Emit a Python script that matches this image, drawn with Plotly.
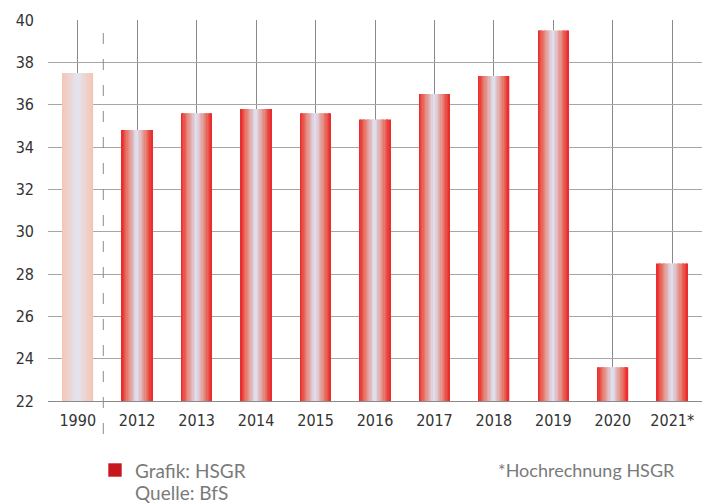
import plotly.graph_objects as go

categories = ["1990", "2012", "2013", "2014", "2015", "2016", "2017", "2018", "2019", "2020", "2021*"]
values = [37.5, 34.8, 35.6, 35.8, 35.6, 35.3, 36.5, 37.35, 39.5, 23.6, 28.5]
y_ticks = [22, 24, 26, 28, 30, 32, 34, 36, 38, 40]

W, H = 708, 503
L, R, T, B = 48, 6, 20, 102
pw, ph = W - L - R, H - T - B


def lerp(c1, c2, t):
    return "rgb(%d,%d,%d)" % tuple(round(a + (b - a) * t) for a, b in zip(c1, c2))


red_edge = (236, 36, 38)
red_mid = (230, 122, 108)
center = (222, 222, 236)
peach_edge = (246, 196, 180)
peach_center = (228, 228, 238)


def grad(edge, mid, cen, t):
    if mid is None:
        return lerp(edge, cen, t)
    if t < 0.4:
        return lerp(edge, mid, t / 0.4)
    return lerp(mid, cen, (t - 0.4) / 0.6)


fig = go.Figure()
N = 24
bw = 0.515
sw = bw / N
for i in range(N):
    pos = (i + 0.5) / N
    t = 1 - abs(pos - 0.5) * 2
    t = min(1, t * 1.05)
    cols = []
    for c in categories:
        if c == "1990":
            cols.append(grad(peach_edge, None, peach_center, t))
        else:
            cols.append(grad(red_edge, red_mid, center, t))
    fig.add_trace(go.Bar(
        x=categories, y=values, width=sw * 1.06, offset=-bw / 2 + i * sw,
        marker=dict(color=cols, line=dict(width=0)), showlegend=False,
        hoverinfo="skip",
    ))

tick_family = "DejaVu Sans Condensed, DejaVu Sans, sans-serif"
fig.update_layout(
    width=W, height=H, margin=dict(l=L, r=R, t=T, b=B, autoexpand=False),
    paper_bgcolor="white", plot_bgcolor="white", barmode="overlay",
    font=dict(family=tick_family, size=16, color="#333333"),
    xaxis=dict(type="category", categoryorder="array", categoryarray=categories,
               range=[-0.5, 10.5], showgrid=True, gridcolor="#8a8a8a", gridwidth=1,
               showline=True, linecolor="#8a8a8a", linewidth=1, ticks="",
               tickfont=dict(family=tick_family, size=16), ticklabelstandoff=5,
               automargin=False, layer="below traces"),
    yaxis=dict(range=[22, 40], tickvals=y_ticks, showgrid=True, gridcolor="#a6a6a6",
               gridwidth=1, zeroline=False, ticks="", tickfont=dict(family=tick_family, size=16),
               ticklabelstandoff=13, automargin=False, layer="below traces"),
)

fig.add_shape(type="line", xref="x", yref="paper", x0=0.43, x1=0.43,
              y0=-33 / ph, y1=1, line=dict(color="#8a8a8a", width=1, dash="11px,15px"),
              layer="above")


def px_x(px):
    return (px - L) / pw


def px_y(py):
    return (H - B - py) / ph


fig.add_shape(type="rect", xref="paper", yref="paper",
              x0=px_x(108.3), x1=px_x(121.7), y0=px_y(476.7), y1=px_y(463.3),
              fillcolor="#c8161d", line=dict(width=0))

note_font = dict(family="Lato, Liberation Sans, sans-serif", size=19, color="#7a7a7a")
fig.add_annotation(xref="paper", yref="paper", x=px_x(133), y=px_y(470), text="Grafik: HSGR",
                   showarrow=False, xanchor="left", yanchor="middle", font=note_font)
fig.add_annotation(xref="paper", yref="paper", x=px_x(133), y=px_y(492), text="Quelle: BfS",
                   showarrow=False, xanchor="left", yanchor="middle", font=note_font)
fig.add_annotation(xref="paper", yref="paper", x=px_x(586), y=px_y(470), text="*Hochrechnung HSGR",
                   showarrow=False, xanchor="center", yanchor="middle",
                   font=dict(family="Lato, Liberation Sans, sans-serif", size=18, color="#7a7a7a"))

fig.write_html("out.html", config={"displayModeBar": False},
               post_script="document.body.style.margin='0';document.body.style.overflow='hidden';")
